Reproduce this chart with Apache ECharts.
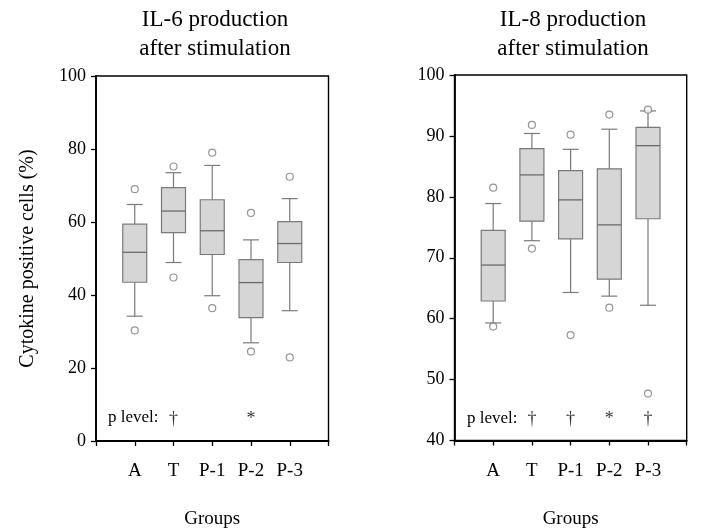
<!DOCTYPE html>
<html>
<head>
<meta charset="utf-8">
<script src="https://cdn.jsdelivr.net/npm/echarts@6/dist/echarts.min.js"></script>
<style>
html,body{margin:0;padding:0;background:#fff;}
#chart{width:703px;height:528px;}
</style>
</head>
<body>
<div id="chart"></div>
<script>
// ---- data ----
const groups = ['A', 'T', 'P-1', 'P-2', 'P-3'];
// [lower whisker, Q1, median, Q3, upper whisker]
const il6Boxes = [
  [34.2, 43.5, 51.7, 59.4, 64.8],
  [48.9, 57.1, 63.0, 69.4, 73.5],
  [39.8, 51.1, 57.6, 66.1, 75.5],
  [26.9, 33.8, 43.4, 49.7, 55.1],
  [35.7, 48.9, 54.1, 60.1, 66.4]
];
const il6Outliers = [
  [69.0, 30.3],
  [75.2, 44.8],
  [79.0, 36.4],
  [62.5, 24.5],
  [72.4, 22.9]
];
const il8Boxes = [
  [59.3, 62.9, 68.8, 74.5, 78.9],
  [72.8, 76.0, 83.6, 87.9, 90.4],
  [64.3, 73.1, 79.5, 84.3, 87.8],
  [63.7, 66.5, 75.4, 84.6, 91.1],
  [62.2, 76.4, 88.4, 91.4, 94.1]
];
const il8Outliers = [
  [81.5, 58.7],
  [91.8, 71.5],
  [90.2, 57.3],
  [93.5, 61.8],
  [94.3, 47.7]
];
const il6PLevel = ['', '†', '', '*', ''];
const il8PLevel = ['', '†', '†', '*', '†'];
const il6Ticks = {min: 0, max: 100, interval: 20};
const il8Ticks = {min: 40, max: 100, interval: 10};
const titles = ['IL-6 production\nafter stimulation', 'IL-8 production\nafter stimulation'];
const yName = 'Cytokine positive cells (%)';
const xName = 'Groups';
const pLevelLabel = 'p level:';

// ---- build ----
const FONT = '"Liberation Serif", "DejaVu Serif", serif';
const axisCats = [''].concat(groups).concat(['']);

function boxData(boxes) {
  return boxes.map((b, i) => [i + 1].concat(b));
}
function outlierData(outs) {
  const d = [];
  outs.forEach((arr, i) => arr.forEach(v => d.push([i + 1, v])));
  return d;
}
function pData(marks, y) {
  const d = [];
  marks.forEach((m, i) => { if (m) d.push([i + 1, y, m]); });
  return d;
}

function renderBox(params, api) {
  const x = api.value(0);
  const lo = api.coord([x, api.value(1)]);
  const q1 = api.coord([x, api.value(2)]);
  const md = api.coord([x, api.value(3)]);
  const q3 = api.coord([x, api.value(4)]);
  const hi = api.coord([x, api.value(5)]);
  const cx = lo[0];
  const bw = 24, cw = 16;
  const lineStyle = {stroke: '#7a7a7a', lineWidth: 1.2};
  return {
    type: 'group',
    children: [
      {type: 'line', shape: {x1: cx, y1: lo[1], x2: cx, y2: q1[1]}, style: lineStyle},
      {type: 'line', shape: {x1: cx, y1: q3[1], x2: cx, y2: hi[1]}, style: lineStyle},
      {type: 'line', shape: {x1: cx - cw / 2, y1: lo[1], x2: cx + cw / 2, y2: lo[1]}, style: lineStyle},
      {type: 'line', shape: {x1: cx - cw / 2, y1: hi[1], x2: cx + cw / 2, y2: hi[1]}, style: lineStyle},
      {type: 'rect', shape: {x: cx - bw / 2, y: q3[1], width: bw, height: q1[1] - q3[1]},
        style: {fill: '#d6d6d6', stroke: '#7a7a7a', lineWidth: 1.2}},
      {type: 'line', shape: {x1: cx - bw / 2, y1: md[1], x2: cx + bw / 2, y2: md[1]}, style: {stroke: '#6a6a6a', lineWidth: 1.3}}
    ]
  };
}

function xAxis(gi) {
  return {
    type: 'category', gridIndex: gi, data: axisCats, boundaryGap: false,
    axisLine: {lineStyle: {color: '#000', width: 1.8}},
    axisTick: {show: true, interval: 0, length: 5, lineStyle: {color: '#000', width: 1.3}},
    axisLabel: {interval: 0, color: '#000', fontFamily: FONT, fontSize: 19, margin: 21},
    name: xName, nameLocation: 'middle', nameGap: 69,
    nameTextStyle: {color: '#000', fontFamily: FONT, fontSize: 19},
    splitLine: {show: false}
  };
}
function yAxis(gi, t, name) {
  return {
    type: 'value', gridIndex: gi, min: t.min, max: t.max, interval: t.interval,
    axisLine: {show: true, lineStyle: {color: '#000', width: 1.8}},
    axisTick: {show: true, length: 5, lineStyle: {color: '#000', width: 1.3}},
    axisLabel: {color: '#000', fontFamily: FONT, fontSize: 18, margin: 10},
    splitLine: {show: false},
    name: name || '', nameLocation: 'middle', nameGap: 58,
    nameTextStyle: {color: '#000', fontFamily: FONT, fontSize: 20}
  };
}

const outlierStyle = {color: '#fff', borderColor: '#7a7a7a', borderWidth: 1.2};
const pLabel = {show: true, position: 'inside', formatter: p => p.value[2], color: '#000', fontFamily: FONT, fontSize: 18};

const option = {
  backgroundColor: '#fff',
  animation: false,
  title: [
    {text: titles[0], left: 210, top: 0, textAlign: 'center',
      textStyle: {fontFamily: FONT, fontSize: 23, fontWeight: 'normal', color: '#000', lineHeight: 29}},
    {text: titles[1], left: 568, top: 0, textAlign: 'center',
      textStyle: {fontFamily: FONT, fontSize: 23, fontWeight: 'normal', color: '#000', lineHeight: 29}}
  ],
  grid: [
    {left: 96, right: 703 - 328.5, top: 76, bottom: 528 - 441, show: true, borderColor: '#000', borderWidth: 1.4,
      backgroundColor: 'transparent', containLabel: false, outerBoundsMode: 'none'},
    {left: 454.5, right: 703 - 686.7, top: 75, bottom: 528 - 440.5, show: true, borderColor: '#000', borderWidth: 1.4,
      backgroundColor: 'transparent', containLabel: false, outerBoundsMode: 'none'}
  ],
  xAxis: [xAxis(0), xAxis(1)],
  yAxis: [yAxis(0, il6Ticks, yName), yAxis(1, il8Ticks)],
  graphic: [
    {type: 'text', left: 108, top: 409, style: {text: pLevelLabel, font: '17px ' + FONT, fill: '#000'}},
    {type: 'text', left: 467, top: 410, style: {text: pLevelLabel, font: '17px ' + FONT, fill: '#000'}}
  ],
  series: [
    {type: 'custom', xAxisIndex: 0, yAxisIndex: 0, data: boxData(il6Boxes), renderItem: renderBox, encode: {x: 0, y: [1, 2, 3, 4, 5]}},
    {type: 'scatter', xAxisIndex: 0, yAxisIndex: 0, data: outlierData(il6Outliers), symbol: 'circle', symbolSize: 7, itemStyle: outlierStyle},
    {type: 'scatter', xAxisIndex: 0, yAxisIndex: 0, data: pData(il6PLevel, 5.9), symbolSize: 0, label: pLabel, silent: true},
    {type: 'custom', xAxisIndex: 1, yAxisIndex: 1, data: boxData(il8Boxes), renderItem: renderBox, encode: {x: 0, y: [1, 2, 3, 4, 5]}},
    {type: 'scatter', xAxisIndex: 1, yAxisIndex: 1, data: outlierData(il8Outliers), symbol: 'circle', symbolSize: 7, itemStyle: outlierStyle},
    {type: 'scatter', xAxisIndex: 1, yAxisIndex: 1, data: pData(il8PLevel, 43.45), symbolSize: 0, label: pLabel, silent: true}
  ]
};

const chart = echarts.init(document.getElementById('chart'), null, {renderer: 'canvas'});
chart.setOption(option);
</script>
</body>
</html>
